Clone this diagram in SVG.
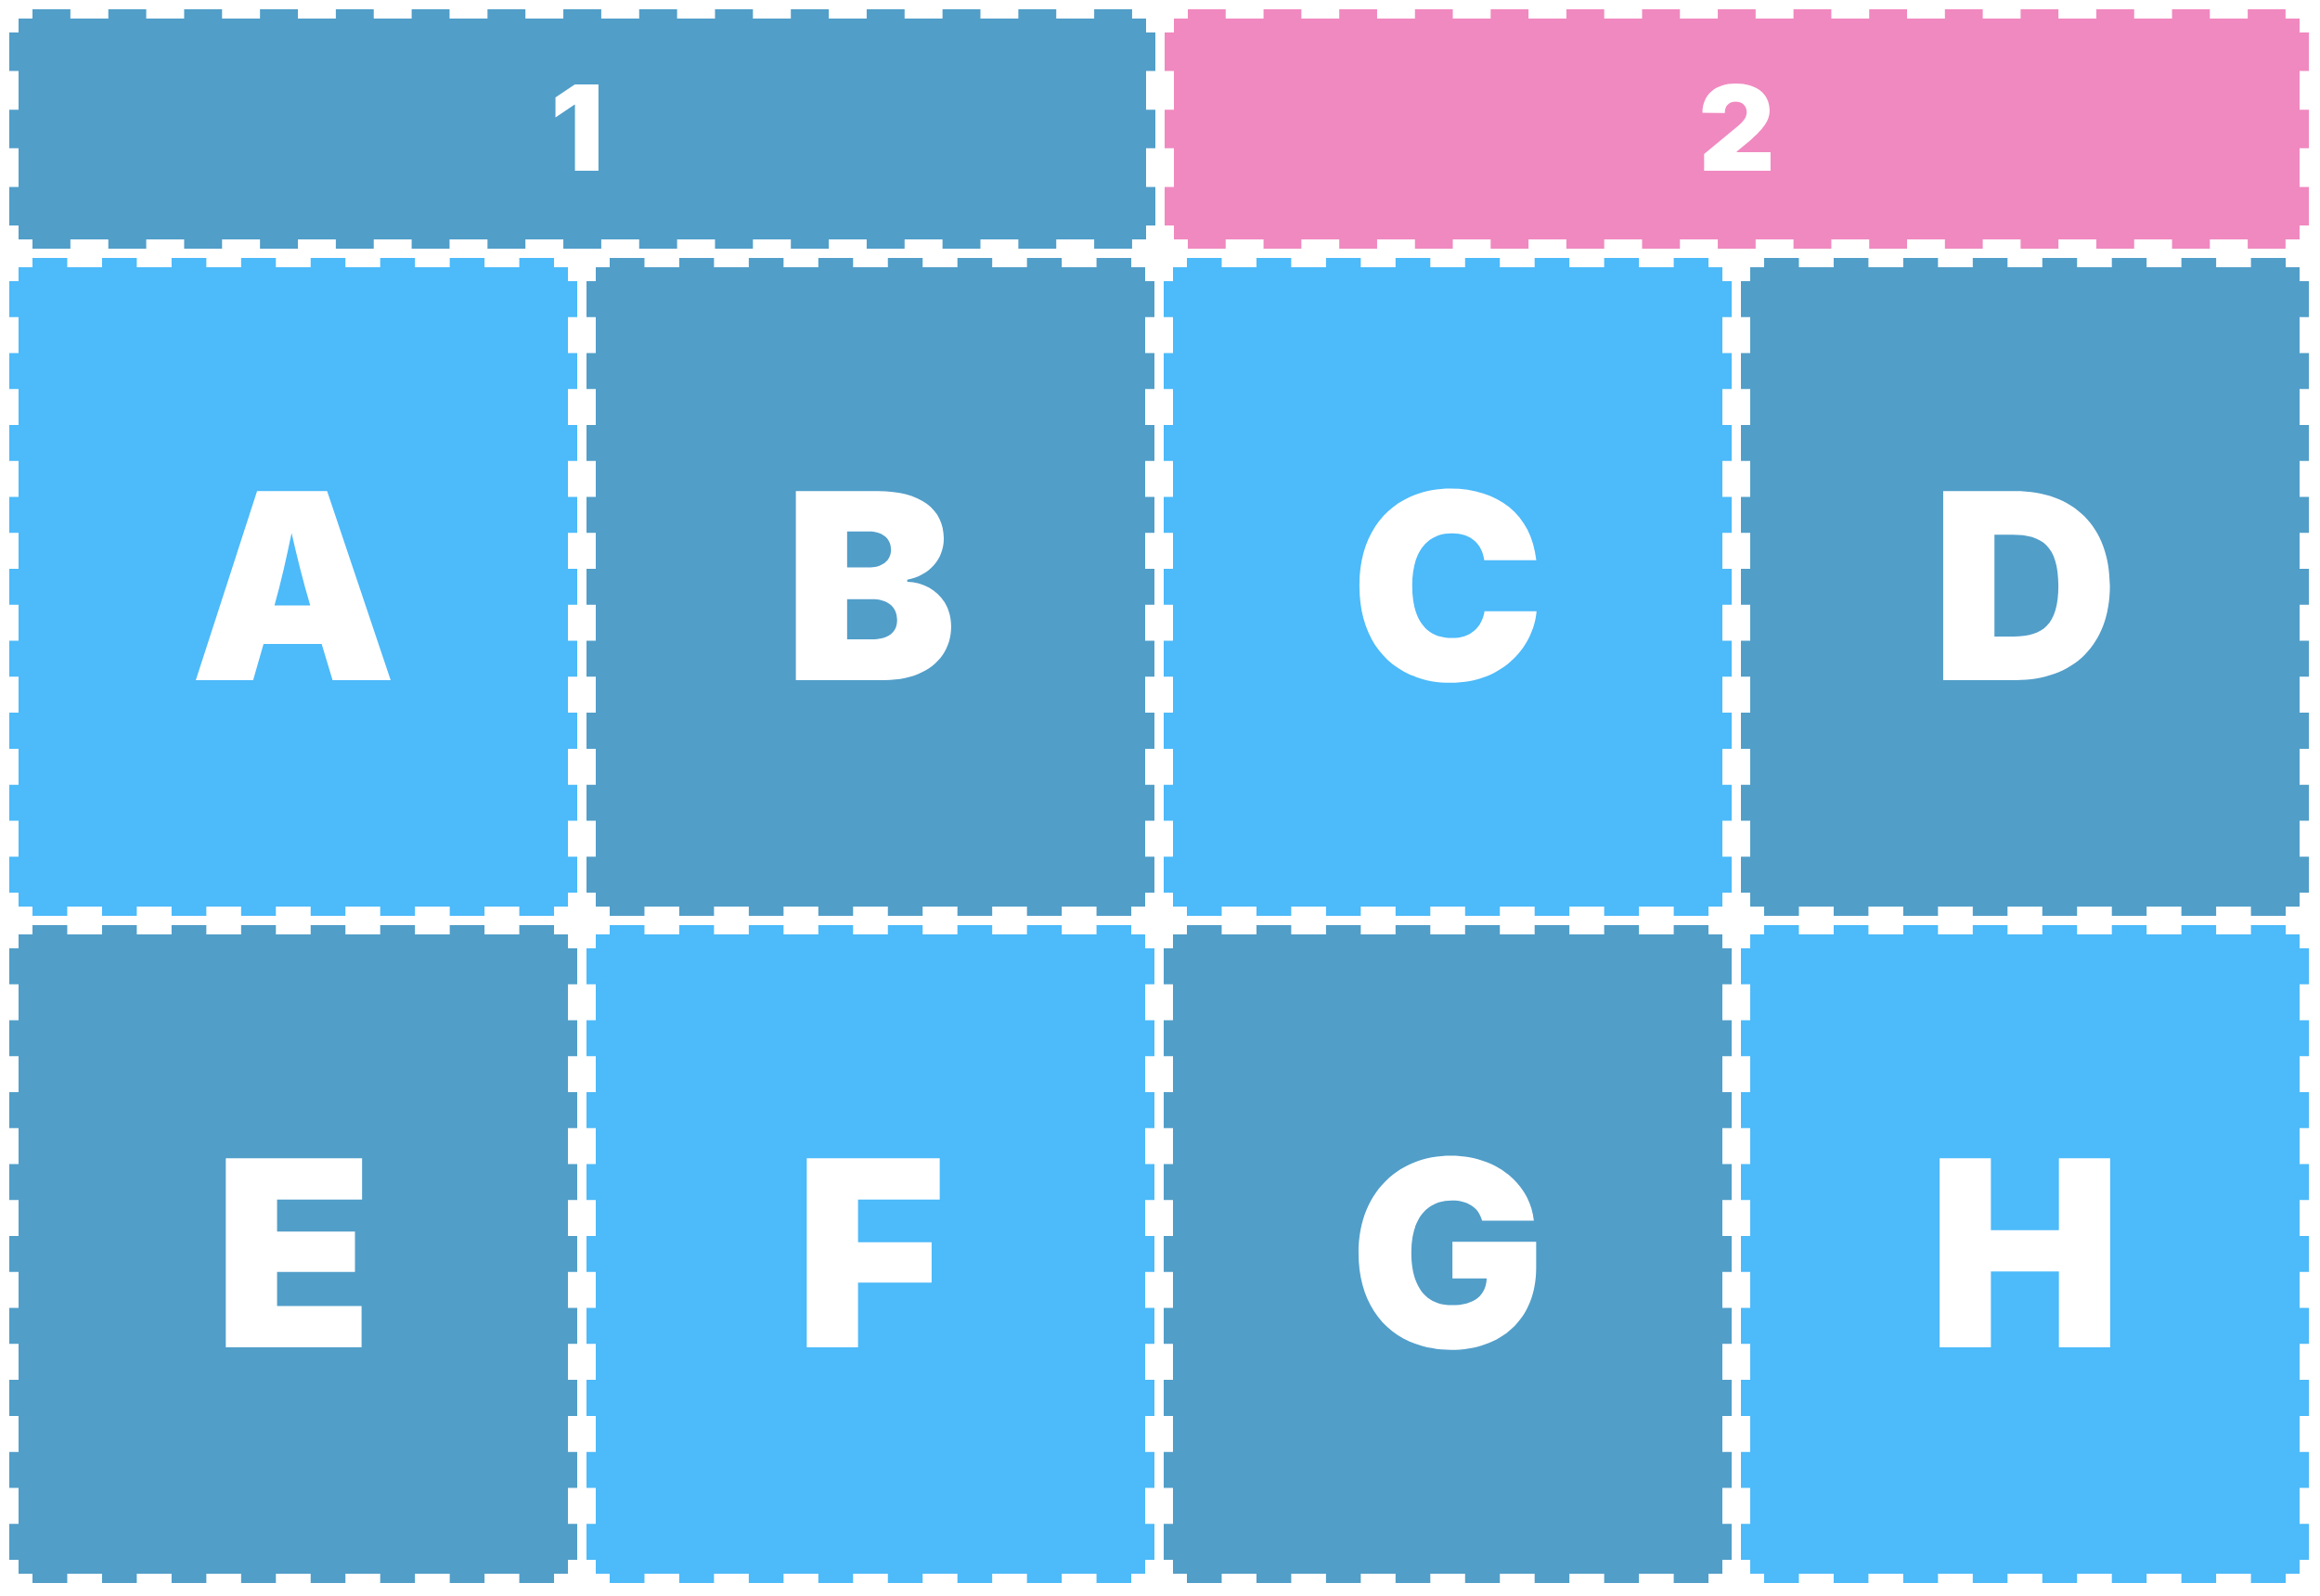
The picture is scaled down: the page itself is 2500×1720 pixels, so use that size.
<svg xmlns="http://www.w3.org/2000/svg" width="2500" height="1720" viewBox="0 0 2500 1720">
<style>
.dark{fill:#519EC9}
.light{fill:#4DBAF9}
.pink{fill:#F089C0}
line{stroke:#FFFFFF;stroke-width:20;stroke-linecap:butt;fill:none}
.h1235{stroke-dasharray:40.86 40.86;stroke-dashoffset:15.86}
.h1233{stroke-dasharray:40.79 40.79;stroke-dashoffset:15.79}
.v258{stroke-dasharray:41.6 41.6;stroke-dashoffset:16.6}
.h612{stroke-dasharray:37.47 37.47;stroke-dashoffset:12.47}
.v709{stroke-dasharray:38.76 38.76;stroke-dashoffset:13.76}
text{fill:#FFFFFF;font-family:Inter,"Noto Sans","Liberation Sans",sans-serif;font-weight:900;text-anchor:middle}
.big{font-size:280px}
.num{font-size:128px}
</style>
<rect x="0" y="0" width="2500" height="1720" fill="#FFFFFF"/>
<g id="cell-1">
<rect class="dark" x="10" y="10" width="1235" height="258"/>
<line class="h1235" x1="10" y1="10" x2="1245" y2="10"/>
<line class="h1235" x1="10" y1="268" x2="1245" y2="268"/>
<line class="v258" x1="10" y1="10" x2="10" y2="268"/>
<line class="v258" x1="1245" y1="10" x2="1245" y2="268"/>
<text class="num" x="622" y="184">1</text>
</g>
<g id="cell-2">
<rect class="pink" x="1255" y="10" width="1233" height="258"/>
<line class="h1233" x1="1255" y1="10" x2="2488" y2="10"/>
<line class="h1233" x1="1255" y1="268" x2="2488" y2="268"/>
<line class="v258" x1="1255" y1="10" x2="1255" y2="268"/>
<line class="v258" x1="2488" y1="10" x2="2488" y2="268"/>
<text class="num" x="1871.5" y="184">2</text>
</g>
<g id="cell-A">
<rect class="light" x="10" y="278" width="612" height="709"/>
<line class="h612" x1="10" y1="278" x2="622" y2="278"/>
<line class="h612" x1="10" y1="987" x2="622" y2="987"/>
<line class="v709" x1="10" y1="278" x2="10" y2="987"/>
<line class="v709" x1="622" y1="278" x2="622" y2="987"/>
<text class="big" x="316" y="733">A</text>
</g>
<g id="cell-B">
<rect class="dark" x="632" y="278" width="612" height="709"/>
<line class="h612" x1="632" y1="278" x2="1244" y2="278"/>
<line class="h612" x1="632" y1="987" x2="1244" y2="987"/>
<line class="v709" x1="632" y1="278" x2="632" y2="987"/>
<line class="v709" x1="1244" y1="278" x2="1244" y2="987"/>
<text class="big" x="938" y="733">B</text>
</g>
<g id="cell-C">
<rect class="light" x="1254" y="278" width="612" height="709"/>
<line class="h612" x1="1254" y1="278" x2="1866" y2="278"/>
<line class="h612" x1="1254" y1="987" x2="1866" y2="987"/>
<line class="v709" x1="1254" y1="278" x2="1254" y2="987"/>
<line class="v709" x1="1866" y1="278" x2="1866" y2="987"/>
<text class="big" x="1560" y="733">C</text>
</g>
<g id="cell-D">
<rect class="dark" x="1876" y="278" width="612" height="709"/>
<line class="h612" x1="1876" y1="278" x2="2488" y2="278"/>
<line class="h612" x1="1876" y1="987" x2="2488" y2="987"/>
<line class="v709" x1="1876" y1="278" x2="1876" y2="987"/>
<line class="v709" x1="2488" y1="278" x2="2488" y2="987"/>
<text class="big" x="2182" y="733">D</text>
</g>
<g id="cell-E">
<rect class="dark" x="10" y="997" width="612" height="709"/>
<line class="h612" x1="10" y1="997" x2="622" y2="997"/>
<line class="h612" x1="10" y1="1706" x2="622" y2="1706"/>
<line class="v709" x1="10" y1="997" x2="10" y2="1706"/>
<line class="v709" x1="622" y1="997" x2="622" y2="1706"/>
<text class="big" x="316" y="1452">E</text>
</g>
<g id="cell-F">
<rect class="light" x="632" y="997" width="612" height="709"/>
<line class="h612" x1="632" y1="997" x2="1244" y2="997"/>
<line class="h612" x1="632" y1="1706" x2="1244" y2="1706"/>
<line class="v709" x1="632" y1="997" x2="632" y2="1706"/>
<line class="v709" x1="1244" y1="997" x2="1244" y2="1706"/>
<text class="big" x="938" y="1452">F</text>
</g>
<g id="cell-G">
<rect class="dark" x="1254" y="997" width="612" height="709"/>
<line class="h612" x1="1254" y1="997" x2="1866" y2="997"/>
<line class="h612" x1="1254" y1="1706" x2="1866" y2="1706"/>
<line class="v709" x1="1254" y1="997" x2="1254" y2="1706"/>
<line class="v709" x1="1866" y1="997" x2="1866" y2="1706"/>
<text class="big" x="1560" y="1452">G</text>
</g>
<g id="cell-H">
<rect class="light" x="1876" y="997" width="612" height="709"/>
<line class="h612" x1="1876" y1="997" x2="2488" y2="997"/>
<line class="h612" x1="1876" y1="1706" x2="2488" y2="1706"/>
<line class="v709" x1="1876" y1="997" x2="1876" y2="1706"/>
<line class="v709" x1="2488" y1="997" x2="2488" y2="1706"/>
<text class="big" x="2182" y="1452">H</text>
</g>
<g id="connectors"></g>
</svg>
